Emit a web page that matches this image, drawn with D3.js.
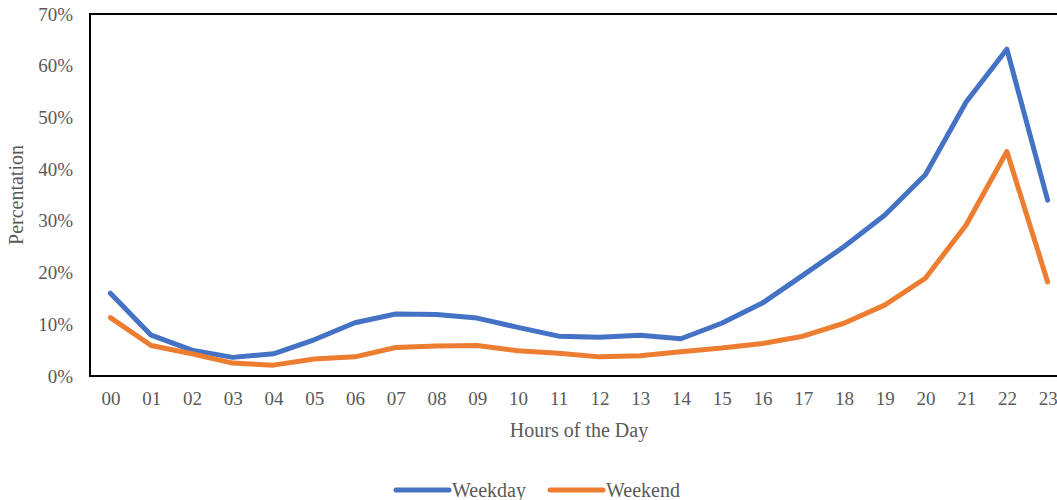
<!DOCTYPE html>
<html>
<head>
<meta charset="utf-8">
<script src="https://cdn.jsdelivr.net/npm/d3@7"></script>
<style>
  html, body { margin: 0; padding: 0; background: #fff; }
  svg { display: block; }
  text { font-family: "Liberation Serif", "Times New Roman", serif; fill: #595959; }
</style>
</head>
<body>
<svg id="chart" width="1057" height="500"></svg>
<script>
const hours = ["00","01","02","03","04","05","06","07","08","09","10","11","12","13","14","15","16","17","18","19","20","21","22","23"];
const weekday = [16.0, 7.9, 5.0, 3.6, 4.3, 7.0, 10.3, 12.0, 11.9, 11.2, 9.4, 7.7, 7.5, 7.9, 7.2, 10.2, 14.1, 19.5, 25.0, 31.1, 38.9, 53.0, 63.2, 34.0];
const weekend = [11.3, 5.9, 4.3, 2.5, 2.1, 3.3, 3.7, 5.5, 5.8, 5.9, 4.9, 4.4, 3.7, 3.9, 4.7, 5.4, 6.3, 7.7, 10.2, 13.7, 18.9, 29.2, 43.4, 18.2];
const yTicks = [0, 10, 20, 30, 40, 50, 60, 70];
const seriesNames = ["Weekday", "Weekend"];
const seriesColors = ["#4472C4", "#ED7D31"];

const svg = d3.select("#chart");
const mLeft = 90, mRight = 1068, mTop = 14, mBottom = 376;

const x = d3.scalePoint().domain(hours).range([mLeft, mRight]).padding(0.5);
const y = d3.scaleLinear().domain([0, 70]).range([mBottom, mTop]);

// y axis labels
const yAxis = d3.axisLeft(y).tickValues(yTicks).tickFormat(d => d + "%").tickSize(0).tickPadding(17);
const gy = svg.append("g").attr("transform", `translate(${mLeft},0)`).call(yAxis);
gy.select(".domain").remove();
gy.selectAll("text").style("font-size", "19px").style("font-family", "Liberation Serif").attr("fill", "#595959");

// x axis labels
const xAxis = d3.axisBottom(x).tickSize(0).tickPadding(16);
const gx = svg.append("g").attr("transform", `translate(0,${mBottom})`).call(xAxis);
gx.select(".domain").remove();
gx.selectAll("text").style("font-size", "19px").style("font-family", "Liberation Serif").attr("fill", "#595959");

// lines
const data = [weekday, weekend];
const line = d3.line().x((d, i) => x(hours[i])).y(d => y(d));
data.forEach((vals, k) => {
  svg.append("path")
    .attr("d", line(vals))
    .attr("fill", "none")
    .attr("stroke", seriesColors[k])
    .attr("stroke-width", 5)
    .attr("stroke-linejoin", "round")
    .attr("stroke-linecap", "round");
});

// frame
svg.append("rect")
  .attr("x", mLeft).attr("y", mTop)
  .attr("width", mRight - mLeft).attr("height", mBottom - mTop)
  .attr("fill", "none").attr("stroke", "#000").attr("stroke-width", 2);

// axis titles
svg.append("text")
  .attr("x", 579).attr("y", 437)
  .attr("text-anchor", "middle")
  .style("font-size", "20px")
  .text("Hours of the Day");

svg.append("text")
  .attr("transform", `translate(23,195) rotate(-90)`)
  .attr("text-anchor", "middle")
  .style("font-size", "20px")
  .text("Percentation");

// legend
const legendX = [396, 550];
seriesNames.forEach((name, k) => {
  const g = svg.append("g").attr("transform", `translate(${legendX[k]},490)`);
  g.append("line").attr("x1", 0).attr("x2", 53).attr("y1", 0).attr("y2", 0)
    .attr("stroke", seriesColors[k]).attr("stroke-width", 5).attr("stroke-linecap", "round");
  g.append("text").attr("x", 56).attr("y", 7).style("font-size", "20px").text(name);
});
</script>
</body>
</html>
